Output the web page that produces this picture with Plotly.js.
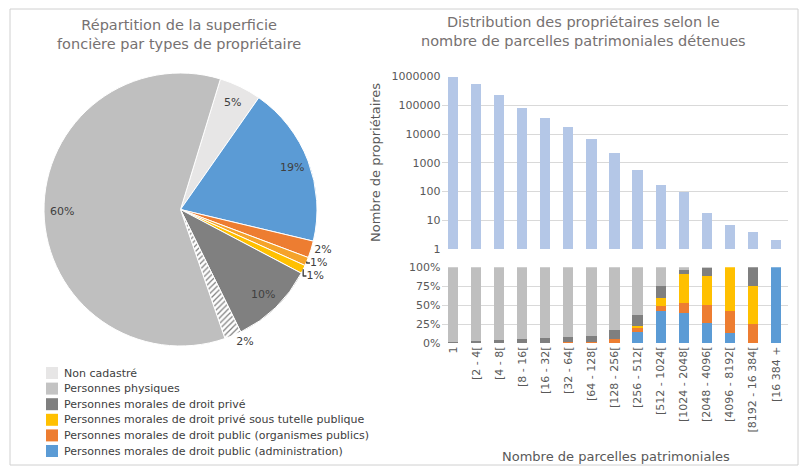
<!DOCTYPE html>
<html>
<head>
<meta charset="utf-8">
<script src="https://cdn.plot.ly/plotly-3.0.1.min.js"></script>
<style>html,body{margin:0;padding:0;background:#fff;}#chart{width:803px;height:467px;}</style>
</head>
<body>
<div id="chart"></div>
<script>
// ---- Pie data ----
const pieLabels = ['Non cadastré', 'Personnes morales de droit public (administration)',
  'Personnes morales de droit public (organismes publics)', 'Organismes publics (autres)',
  'Personnes morales de droit privé sous tutelle publique', 'Personnes morales de droit privé',
  'Personnes physiques (autres)', 'Personnes physiques'];
const pieValues = [5, 19, 2, 1, 1, 10, 2, 60];
const pieColors = ['#e7e6e6', '#5b9bd5', '#ed7d31', '#f5a32a', '#ffc000', '#808080', '#a6a6a6', '#bfbfbf'];
const pieInside = [true, true, false, false, false, true, false, true];
const pieRotation = 17;

// ---- Legend (left chart) ----
const legendLabels = ['Non cadastré', 'Personnes physiques', 'Personnes morales de droit privé',
  'Personnes morales de droit privé sous tutelle publique',
  'Personnes morales de droit public (organismes publics)',
  'Personnes morales de droit public (administration)'];
const legendColors = ['#e7e6e6', '#c3c3c3', '#7f7f7f', '#ffc000', '#ed7d31', '#5b9bd5'];

// ---- Right chart data ----
const categories = ['1', '[2 - 4[', '[4 - 8[', '[8 - 16[', '[16 - 32[', '[32 - 64[', '[64 - 128[',
  '[128 - 256[', '[256 - 512[', '[512 - 1024[', '[1024 - 2048[', '[2048 - 4096[',
  '[4096 - 8192[', '[8192 - 16 384[', '[16 384 +'];
const owners = [950000, 540000, 220000, 79000, 35000, 17000, 6800, 2150, 570, 170, 93, 18, 7, 4, 2];
const logTickVals = [1, 10, 100, 1000, 10000, 100000, 1000000];
const logTickText = ['1', '10', '100', '1000', '10000', '100000', '1000000'];

const shareAdministration = [0, 0, 0, 0, 0, 0, 0, 0, 15, 43, 40, 27, 14, 0, 100];
const shareOrgPublics     = [0, 0, 0, 0, 1, 2, 2, 5, 4.5, 6, 13, 23, 29, 25, 0];
const sharePriveTutelle   = [0, 0, 0, 0, 0, 0, 0, 0.5, 3.5, 10, 38, 39, 57, 50, 0];
const shareMoralesPrive   = [2, 3, 4, 6, 6, 6, 7, 12, 14, 16, 6, 10, 0, 25, 0];
const sharePhysiques      = [98, 97, 96, 94, 93, 92, 91, 82.5, 63, 25, 3, 1, 0, 0, 0];
const pctTickVals = [0, 25, 50, 75, 100];
const pctTickText = ['0%', '25%', '50%', '75%', '100%'];

const W = 803, H = 467;
const px = x => x / W;
const py = y => 1 - y / H;

const txt = '#595959';
const grid = '#d9d9d9';
const FONT = 'DejaVu Sans, Verdana, sans-serif';

// pie geometry (pixels)
const pieX0 = 44, pieX1 = 317, pieY0 = 72, pieY1 = 347;
const pieCx = (pieX0 + pieX1) / 2, pieCy = (pieY0 + pieY1) / 2, pieR = (pieX1 - pieX0) / 2;

const traces = [];
traces.push({
  type: 'pie', labels: pieLabels, values: pieValues, sort: false, direction: 'clockwise',
  rotation: pieRotation, showlegend: false,
  marker: { colors: pieColors, line: { color: '#ffffff', width: 1 },
    pattern: { shape: ['', '', '', '', '', '', '/', ''], fgcolor: '#808080', size: 4, solidity: 0.3 } },
  texttemplate: pieInside.map(v => v ? '' : '%{percent:.0%}'), textposition: 'outside',
  textfont: { family: FONT, size: 11, color: '#404040' },
  domain: { x: [px(pieX0), px(pieX1)], y: [py(pieY1), py(pieY0)] },
  hoverinfo: 'label+percent'
});
traces.push({
  type: 'bar', x: categories, y: owners, xaxis: 'x', yaxis: 'y', showlegend: false,
  marker: { color: '#b4c7e7' }
});
const stackSeries = [
  [legendLabels[5], shareAdministration, '#5b9bd5'],
  [legendLabels[4], shareOrgPublics, '#ed7d31'],
  [legendLabels[3], sharePriveTutelle, '#ffc000'],
  [legendLabels[2], shareMoralesPrive, '#7f7f7f'],
  [legendLabels[1], sharePhysiques, '#bfbfbf']
];
stackSeries.forEach(s => traces.push({
  type: 'bar', name: s[0], x: categories, y: s[1], xaxis: 'x2', yaxis: 'y2',
  showlegend: false, marker: { color: s[2] }
}));

const ann = (text, x, y, opts) => Object.assign({ text: text, x: px(x), y: py(y), xref: 'paper', yref: 'paper',
  showarrow: false, xanchor: 'center', yanchor: 'middle' }, opts || {});

const annotations = [
  ann('Répartition de la superficie<br>foncière par types de propriétaire', 179, 34,
    { font: { family: FONT, size: 14.5, color: '#767171' } }),
  ann('Distribution des propriétaires selon le<br>nombre de parcelles patrimoniales détenues', 583, 32,
    { font: { family: FONT, size: 14.5, color: '#767171' } }),
  ann('Nombre de propriétaires', 375, 163, { textangle: -90, font: { family: FONT, size: 13, color: txt } }),
  ann('Nombre de parcelles patrimoniales', 616, 456, { font: { family: FONT, size: 13, color: txt } })
];

// inside pie labels placed near the rim (best-fit style), from the slice values
const pieTotal = pieValues.reduce((a, b) => a + b, 0);
let acc = 0;
pieValues.forEach((v, i) => {
  const mid = (pieRotation + (acc + v / 2) / pieTotal * 360) * Math.PI / 180;
  acc += v;
  if (!pieInside[i]) return;
  const d = pieR * 0.87;
  annotations.push(ann(Math.round(v / pieTotal * 100) + '%', pieCx + d * Math.sin(mid), pieCy - d * Math.cos(mid),
    { font: { family: FONT, size: 11, color: '#404040' } }));
});

const shapes = [
  { type: 'rect', xref: 'paper', yref: 'paper', x0: px(10), x1: px(798), y0: py(465), y1: py(9),
    line: { color: '#d0d0d0', width: 1 } }
];
const legTop = 373, legStep = 15.6;
legendLabels.forEach((lab, i) => {
  const cy = legTop + i * legStep;
  shapes.push({ type: 'rect', xref: 'paper', yref: 'paper', x0: px(46), x1: px(58), y0: py(cy + 6), y1: py(cy - 6),
    fillcolor: legendColors[i], line: { width: 0 } });
  annotations.push(ann(lab, 62, cy, { xanchor: 'left', font: { family: FONT, size: 11, color: '#404040' } }));
});

const layout = {
  width: W, height: H, margin: { l: 0, r: 0, t: 0, b: 0 },
  paper_bgcolor: '#ffffff', plot_bgcolor: '#ffffff',
  font: { family: FONT, size: 11, color: txt },
  barmode: 'stack', bargap: 0.56,
  xaxis: { domain: [px(441.5), px(787.5)], anchor: 'y', showticklabels: false, ticks: '',
    showgrid: false, showline: false, zeroline: false, automargin: false },
  yaxis: { domain: [py(249), py(76.5)], anchor: 'x', type: 'log', range: [0, 6],
    tickvals: logTickVals, ticktext: logTickText, gridcolor: grid, showline: false, zeroline: false,
    ticks: '', automargin: false, tickfont: { size: 11, color: txt } },
  xaxis2: { domain: [px(441.5), px(787.5)], anchor: 'y2', tickangle: -90, ticks: '',
    showgrid: false, showline: false, zeroline: false, automargin: false, tickfont: { size: 11, color: txt } },
  yaxis2: { domain: [py(343.3), py(267.3)], anchor: 'x2', range: [0, 100], tickvals: pctTickVals,
    ticktext: pctTickText, gridcolor: grid, showline: false, zeroline: false, ticks: '', automargin: false,
    tickfont: { size: 11, color: txt } },
  annotations: annotations, shapes: shapes
};

Plotly.newPlot('chart', traces, layout, { displayModeBar: false, staticPlot: true });
</script>
</body>
</html>
